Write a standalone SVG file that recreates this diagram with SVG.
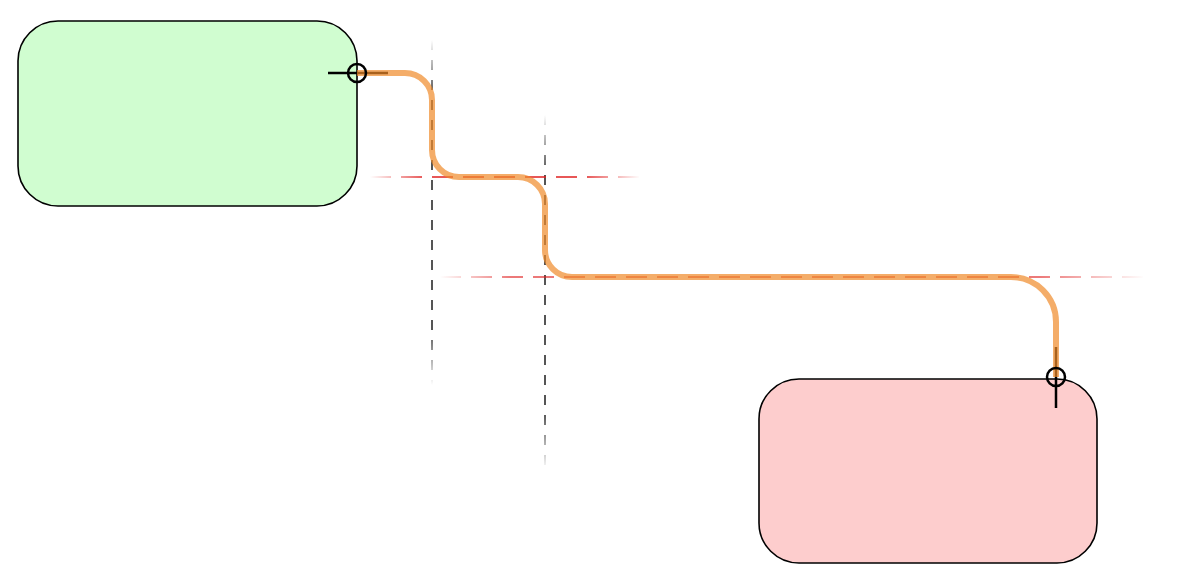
<svg xmlns="http://www.w3.org/2000/svg" width="1200" height="586" viewBox="0 0 1200 586">
<style>
.node{stroke:#000;stroke-width:1.6}
.guide-v{fill:none;stroke-width:2;stroke-dasharray:10 10}
.guide-h{fill:none;stroke-width:1.6;stroke-dasharray:21 10}
.tick{stroke:#000;stroke-width:2.5;fill:none}
.route{fill:none;stroke:#f08a2a;stroke-opacity:0.7;stroke-width:6}
</style>
<defs>
<linearGradient id="gv1" gradientUnits="userSpaceOnUse" x1="0" y1="40" x2="0" y2="385">
<stop offset="0" stop-color="#555" stop-opacity="0"/><stop offset="0.16" stop-color="#555" stop-opacity="1"/><stop offset="0.84" stop-color="#555" stop-opacity="1"/><stop offset="1" stop-color="#555" stop-opacity="0"/>
</linearGradient>
<linearGradient id="gv2" gradientUnits="userSpaceOnUse" x1="0" y1="115" x2="0" y2="470">
<stop offset="0" stop-color="#555" stop-opacity="0"/><stop offset="0.16" stop-color="#555" stop-opacity="1"/><stop offset="0.84" stop-color="#555" stop-opacity="1"/><stop offset="1" stop-color="#555" stop-opacity="0"/>
</linearGradient>
<linearGradient id="gh1" gradientUnits="userSpaceOnUse" x1="370" y1="0" x2="640" y2="0">
<stop offset="0" stop-color="#e02020" stop-opacity="0"/><stop offset="0.2" stop-color="#e02020" stop-opacity="1"/><stop offset="0.8" stop-color="#e02020" stop-opacity="1"/><stop offset="1" stop-color="#e02020" stop-opacity="0"/>
</linearGradient>
<linearGradient id="gh2" gradientUnits="userSpaceOnUse" x1="440" y1="0" x2="1145" y2="0">
<stop offset="0" stop-color="#e02020" stop-opacity="0"/><stop offset="0.1" stop-color="#e02020" stop-opacity="0.8"/><stop offset="0.85" stop-color="#e02020" stop-opacity="0.8"/><stop offset="1" stop-color="#e02020" stop-opacity="0"/>
</linearGradient>
</defs>
<rect width="1200" height="586" fill="#fff"/>
<g id="source-node"><rect class="node" x="18" y="21" width="339" height="185" rx="40" fill="#d0fdd0"/></g>
<g id="target-node"><rect class="node" x="759" y="379" width="338" height="184" rx="40" fill="#fdcdcd"/></g>
<g id="guides">
<line class="guide-v" x1="432" y1="40" x2="432" y2="385" stroke="url(#gv1)"/>
<line class="guide-v" x1="545" y1="115" x2="545" y2="470" stroke="url(#gv2)"/>
<line class="guide-h" x1="370" y1="177" x2="640" y2="177" stroke="url(#gh1)"/>
<line class="guide-h" x1="440" y1="277" x2="1145" y2="277" stroke="url(#gh2)"/>
</g>
<g id="connectors">
<line class="tick" x1="328" y1="73" x2="388" y2="73"/>
<line class="tick" x1="1056" y1="347" x2="1056" y2="408"/>
<path class="route" d="M357 73 H405 A27 27 0 0 1 432 100 V150 A27 27 0 0 0 459 177 H518 A27 27 0 0 1 545 204 V250 A27 27 0 0 0 572 277 H1011 A45 45 0 0 1 1056 322 V377"/>
<circle class="tick" cx="357" cy="73" r="9"/>
<circle class="tick" cx="1056" cy="377" r="9"/>
</g>
</svg>
